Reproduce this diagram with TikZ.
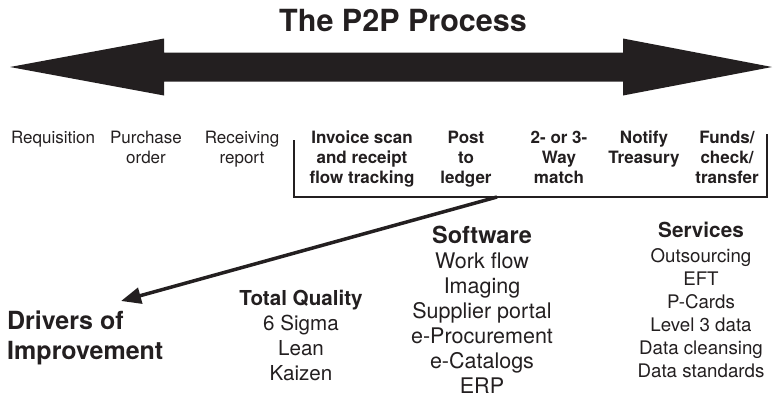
\documentclass[tikz,border=0pt]{standalone}
\usepackage{fontspec}
\setmainfont{TeX Gyre Heros}
\usetikzlibrary{arrows.meta, positioning}
\definecolor{ink}{HTML}{231F20}
\tikzset{%
	stage/.style={
		anchor=north,
		inner sep=0pt,
		align=center,
		text=ink,
		font=\fontsize{17}{20}\selectfont
	},
	stage bold/.style={
		stage,
		font=\fontsize{17}{20}\selectfont\bfseries
	},
	driver group/.style={
		anchor=north,
		inner sep=0pt,
		align=center,
		text=ink
	},
}

\begin{document}
\begin{tikzpicture}[x=1pt,y=-1pt]
			\useasboundingbox (0,0) rectangle (774,400);
			
			\node[driver group, font=\fontsize{30.5}{36}\selectfont\bfseries] (title) at (403,9) {The P2P Process};
			
			% the double arrow
			\fill[ink] (10,67) -- (164,38.5) -- (164,52.5) -- (623,52.5) -- (623,38.5)
				-- (772,67) -- (623,95.5) -- (623,81.5) -- (164,81.5) -- (164,95.5) -- cycle;
			
			\node[stage] (req) at (53,131) {Requisition};
			\node[stage] (po) at (146,131) {Purchase\\order};
			\node[stage] (rr) at (242,131) {Receiving\\report};
			\node[stage bold] (inv) at (362,131) {Invoice scan\\and receipt\\flow tracking};
			\node[stage bold] (post) at (466,131) {Post\\to\\ledger};
			\node[stage bold] (match) at (559,131) {2- or 3-\\Way\\match};
			\node[stage bold] (notify) at (644,131) {Notify\\Treasury};
			\node[stage bold] (funds) at (727,131) {Funds/\\check/\\transfer};
			
			% bracket under the automated steps
			\draw[ink, line width=2.8pt] (294,140) -- (294,197) -- (767,197) -- (767,134);
			\coordinate (brk) at (497,197);
			\coordinate (tip) at (121,301);
			\draw[ink, line width=3.5pt, -{Triangle[length=20pt, width=16pt]}] (brk) -- (tip);
			
			\node[driver group, anchor=north west, align=left, font=\fontsize{25}{30}\selectfont\bfseries] (drivers) at (7,311) {Drivers of\\Improvement};
			
			\node[driver group, font=\fontsize{20.6}{25}\selectfont] (tq) at (301,290) {{\bfseries Total Quality}\\6 Sigma\\Lean\\Kaizen};
			
			\node[driver group, font=\fontsize{21.5}{25}\selectfont] (soft) at (482,226) {{\fontsize{23.5}{25}\selectfont\bfseries Software}\\Work flow\\Imaging\\Supplier portal\\e-Procurement\\e-Catalogs\\ERP};
			
			\node[driver group, font=\fontsize{18.7}{23}\selectfont] (serv) at (701,222) {{\fontsize{20.7}{25}\selectfont\bfseries Services}\\[2pt]Outsourcing\\EFT\\P-Cards\\Level 3 data\\Data cleansing\\Data standards};
		\end{tikzpicture}
\end{document}
